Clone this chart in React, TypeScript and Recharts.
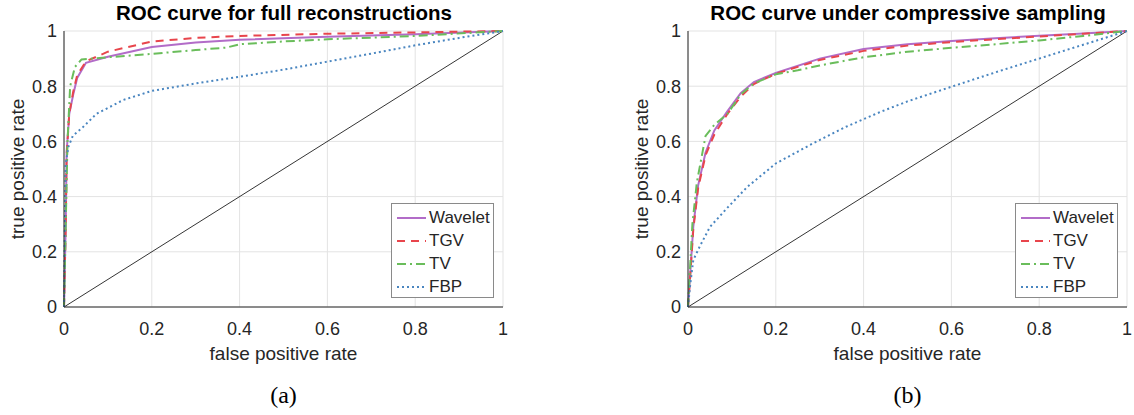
import React from "react";
import { LineChart, Line, XAxis, YAxis, CartesianGrid, Legend } from "recharts";

const ticks = [0, 0.2, 0.4, 0.6, 0.8, 1];
const chance = [{ x: 0, y: 0 }, { x: 1, y: 1 }];

// (a) full reconstructions: [fpr, tpr]
const waveletA = [[0, 0], [0.004, 0.3], [0.006, 0.56], [0.012, 0.7], [0.021, 0.77], [0.03, 0.83], [0.05, 0.885], [0.1, 0.907], [0.2, 0.942], [0.3, 0.958], [0.4, 0.968], [0.6, 0.979], [0.8, 0.988], [1, 1]];
const tgvA = [[0, 0], [0.004, 0.3], [0.006, 0.55], [0.012, 0.7], [0.021, 0.78], [0.03, 0.84], [0.05, 0.89], [0.1, 0.925], [0.2, 0.962], [0.3, 0.975], [0.4, 0.982], [0.6, 0.99], [0.8, 0.995], [1, 1]];
const tvA = [[0, 0], [0.004, 0.3], [0.008, 0.6], [0.014, 0.8], [0.025, 0.87], [0.04, 0.897], [0.1, 0.905], [0.2, 0.917], [0.3, 0.931], [0.37, 0.94], [0.4, 0.952], [0.5, 0.962], [0.6, 0.97], [0.8, 0.982], [1, 1]];
const fbpA = [[0, 0], [0.002, 0.3], [0.004, 0.52], [0.01, 0.58], [0.02, 0.62], [0.044, 0.653], [0.074, 0.7], [0.135, 0.75], [0.2, 0.783], [0.3, 0.81], [0.4, 0.834], [0.5, 0.86], [0.6, 0.889], [0.7, 0.918], [0.8, 0.948], [0.9, 0.975], [1, 1]];

// (b) compressive sampling
const waveletB = [[0, 0], [0.005, 0.12], [0.012, 0.29], [0.023, 0.44], [0.04, 0.56], [0.06, 0.64], [0.09, 0.71], [0.12, 0.775], [0.15, 0.815], [0.2, 0.848], [0.3, 0.9], [0.4, 0.935], [0.5, 0.952], [0.6, 0.964], [0.7, 0.974], [0.8, 0.983], [0.9, 0.991], [1, 1]];
const tgvB = [[0, 0], [0.005, 0.11], [0.012, 0.28], [0.023, 0.43], [0.04, 0.55], [0.06, 0.625], [0.09, 0.7], [0.12, 0.762], [0.15, 0.808], [0.2, 0.845], [0.3, 0.895], [0.4, 0.928], [0.5, 0.947], [0.6, 0.96], [0.7, 0.97], [0.8, 0.98], [0.9, 0.99], [1, 1]];
const tvB = [[0, 0], [0.005, 0.15], [0.01, 0.3], [0.02, 0.45], [0.04, 0.62], [0.06, 0.66], [0.09, 0.7], [0.12, 0.77], [0.15, 0.81], [0.2, 0.843], [0.25, 0.858], [0.3, 0.875], [0.4, 0.905], [0.5, 0.925], [0.6, 0.939], [0.7, 0.952], [0.8, 0.966], [0.9, 0.982], [1, 1]];
const fbpB = [[0, 0], [0.005, 0.08], [0.012, 0.17], [0.027, 0.22], [0.05, 0.29], [0.09, 0.36], [0.135, 0.435], [0.2, 0.52], [0.285, 0.593], [0.36, 0.653], [0.44, 0.708], [0.5, 0.745], [0.6, 0.798], [0.7, 0.85], [0.8, 0.9], [0.9, 0.95], [1, 1]];

const names = ["Wavelet", "TGV", "TV", "FBP"];
const colors = ["#b26cc8", "#e8454c", "#6abd5b", "#4a86c0"];
const dashes = ["", "8 6", "9 4 2 4", "2 3"];

const toPts = (arr: number[][]) => arr.map(([x, y]) => ({ x, y }));
const fmt = (v: number) => String(v);

const FONT = "'Liberation Sans', Arial, sans-serif";
const TXT = "#262626";

function LegendBox() {
  return (
    <div style={{ width: 103, height: 95, border: "1px solid #8a8a8a", background: "#fff", boxSizing: "border-box", paddingTop: 2 }}>
      {names.map((n, i) => (
        <div key={n} style={{ display: "flex", alignItems: "center", height: 23, fontFamily: FONT, fontSize: 17, color: TXT }}>
          <svg width={32} height={10} style={{ marginLeft: 5 }}>
            <line x1={0} y1={5} x2={29} y2={5} stroke={colors[i]} strokeWidth={2} strokeDasharray={dashes[i] || undefined} />
          </svg>
          <span>{n}</span>
        </div>
      ))}
    </div>
  );
}

function Roc({ left, title, caption, series }: { left: number; title: string; caption: string; series: number[][][] }) {
  return (
    <div style={{ position: "absolute", left, top: 0, width: 520, height: 415 }}>
      <div style={{ position: "absolute", left: 34, width: 500, top: 1, textAlign: "center", fontFamily: FONT, fontWeight: "bold", fontSize: 20.5, color: "#000", whiteSpace: "nowrap" }}>{title}</div>
      <div style={{ position: "absolute", left: 18, top: 169, transform: "translate(-50%,-50%) rotate(-90deg)", whiteSpace: "nowrap", fontFamily: FONT, fontSize: 19, color: TXT }}>true positive rate</div>
      <div style={{ position: "absolute", left: 64, width: 439, top: 343, textAlign: "center", fontFamily: FONT, fontSize: 19, color: TXT }}>false positive rate</div>
      <div style={{ position: "absolute", left: 64, width: 439, top: 382, textAlign: "center", fontFamily: "'Liberation Serif', 'DejaVu Serif', serif", fontSize: 24, color: "#000" }}>{caption}</div>
      <div style={{ position: "absolute", left: 0, top: 0 }}>
        <LineChart width={520} height={340} margin={{ top: 31, right: 17, bottom: 3, left: 24 }} style={{ fontFamily: FONT }}>
          <CartesianGrid stroke="#e3e3e3" strokeWidth={1} />
          <XAxis type="number" dataKey="x" domain={[0, 1]} ticks={ticks} tickFormatter={fmt} height={30} tickLine={false}
            axisLine={{ stroke: TXT }} tick={{ fill: TXT, fontSize: 18 }} tickMargin={9} />
          <XAxis xAxisId="bin" orientation="bottom" mirror type="number" dataKey="x" domain={[0, 1]} ticks={ticks} height={0} tick={false}
            tickSize={5} tickLine={{ stroke: TXT }} axisLine={false} />
          <XAxis xAxisId="top" orientation="top" mirror type="number" dataKey="x" domain={[0, 1]} ticks={ticks} height={0} tick={false}
            tickSize={5} tickLine={{ stroke: TXT }} axisLine={{ stroke: TXT }} />
          <YAxis type="number" domain={[0, 1]} ticks={ticks} tickFormatter={fmt} width={40} tickLine={false}
            axisLine={{ stroke: TXT }} tick={{ fill: TXT, fontSize: 18 }} tickMargin={1} />
          <YAxis yAxisId="lin" orientation="left" mirror type="number" domain={[0, 1]} ticks={ticks} width={0} tick={false}
            tickSize={5} tickLine={{ stroke: TXT }} axisLine={false} />
          <YAxis yAxisId="right" orientation="right" mirror type="number" domain={[0, 1]} ticks={ticks} width={0} tick={false}
            tickSize={5} tickLine={{ stroke: TXT }} axisLine={{ stroke: TXT }} />
          <Line data={chance} dataKey="y" stroke="#000" strokeWidth={0.8} dot={false} isAnimationActive={false} legendType="none" />
          {series.map((s, i) => (
            <Line key={names[i]} name={names[i]} data={toPts(s)} dataKey="y" type="linear" stroke={colors[i]} strokeWidth={2}
              strokeDasharray={dashes[i] || undefined} dot={false} isAnimationActive={false} />
          ))}
          <Legend layout="vertical" align="center" verticalAlign="middle" content={<LegendBox />}
            wrapperStyle={{ left: 391, top: 203, width: 103, height: 95 }} />
        </LineChart>
      </div>
    </div>
  );
}

export default function App() {
  return (
    <div style={{ position: "absolute", left: 0, top: 0, width: 1134, height: 415, background: "#fff" }}>
      <Roc left={0} title="ROC curve for full reconstructions" caption="(a)" series={[waveletA, tgvA, tvA, fbpA]} />
      <Roc left={624} title="ROC curve under compressive sampling" caption="(b)" series={[waveletB, tgvB, tvB, fbpB]} />
    </div>
  );
}
